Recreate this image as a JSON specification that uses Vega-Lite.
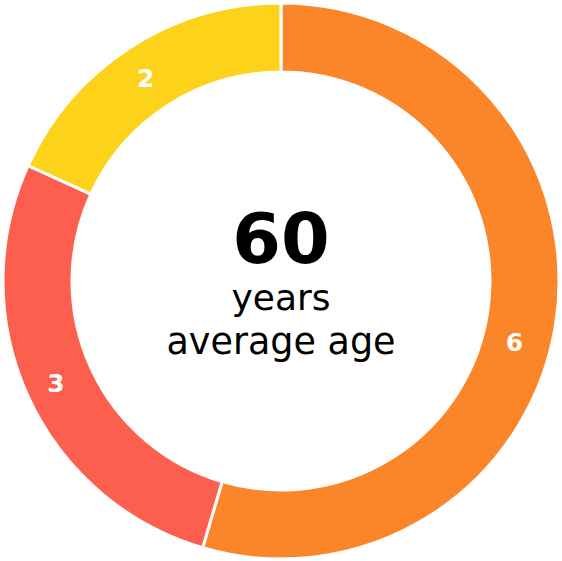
{
  "$schema": "https://vega.github.io/schema/vega-lite/v6.json",
  "width": 562,
  "height": 561,
  "autosize": {"type": "fit", "contains": "padding"},
  "padding": {"top": 1, "left": 0, "right": 0, "bottom": 0},
  "background": "white",
  "view": {"stroke": null},
  "layer": [
    {
      "data": {
        "values": [
          {"group": "a", "count": 6, "rank": 1},
          {"group": "b", "count": 3, "rank": 2},
          {"group": "c", "count": 2, "rank": 3}
        ]
      },
      "encoding": {
        "theta": {"field": "count", "type": "quantitative", "stack": true},
        "order": {"field": "rank", "type": "quantitative"}
      },
      "layer": [
        {
          "mark": {"type": "arc", "outerRadius": 278, "innerRadius": 209, "stroke": "white", "strokeWidth": 3},
          "encoding": {
            "color": {
              "field": "group",
              "type": "nominal",
              "scale": {"domain": ["a", "b", "c"], "range": ["#FB8529", "#FC5F4D", "#FDD21A"]},
              "legend": null
            }
          }
        },
        {
          "mark": {"type": "text", "radius": 243, "font": "DejaVu Sans", "fontWeight": "bold", "fontSize": 25, "color": "white", "baseline": "middle", "align": "center", "dx": -4, "dy": 2},
          "encoding": {
            "text": {"condition": {"test": "datum.group != 'a'", "field": "count", "type": "quantitative"}, "value": ""}
          }
        },
        {
          "mark": {"type": "text", "radius": 243, "font": "DejaVu Sans", "fontWeight": "bold", "fontSize": 25, "color": "white", "baseline": "middle", "align": "center", "dx": -7, "dy": 27},
          "encoding": {
            "text": {"condition": {"test": "datum.group == 'a'", "field": "count", "type": "quantitative"}, "value": ""}
          }
        }
      ]
    },
    {
      "data": {"values": [{"label": "60"}]},
      "mark": {"type": "text", "font": "DejaVu Sans", "fontWeight": "bold", "fontSize": 70, "color": "black", "baseline": "alphabetic", "align": "center", "dy": -18},
      "encoding": {"text": {"field": "label", "type": "nominal"}}
    },
    {
      "data": {"values": [{"label": "years"}]},
      "mark": {"type": "text", "font": "DejaVu Sans", "fontSize": 36, "color": "black", "baseline": "alphabetic", "align": "center", "dy": 29},
      "encoding": {"text": {"field": "label", "type": "nominal"}}
    },
    {
      "data": {"values": [{"label": "average age"}]},
      "mark": {"type": "text", "font": "DejaVu Sans", "fontSize": 36.5, "color": "black", "baseline": "alphabetic", "align": "center", "dy": 73},
      "encoding": {"text": {"field": "label", "type": "nominal"}}
    }
  ]
}
